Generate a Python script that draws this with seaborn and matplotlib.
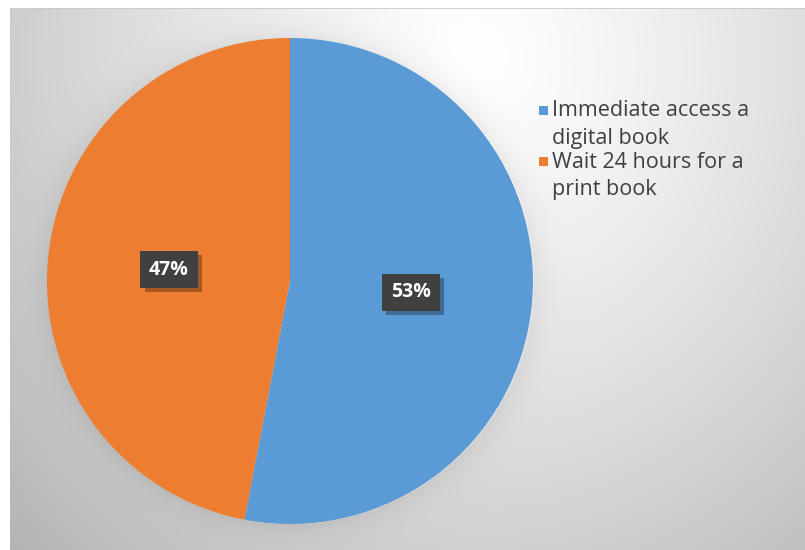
import numpy as np
import matplotlib
matplotlib.use("Agg")
import matplotlib.pyplot as plt
import matplotlib.patheffects as pe
import seaborn as sns

# Survey responses
categories = ["Immediate access a\ndigital book", "Wait 24 hours for a\nprint book"]
shares = [53, 47]
colors = ["#5B9BD5", "#ED7D31"]

sns.set_theme(style="white")
plt.rcParams["font.family"] = ["Open Sans", "DejaVu Sans"]

W, H, DPI = 805, 550, 100
fig = plt.figure(figsize=(W / DPI, H / DPI), dpi=DPI)
fig.patch.set_facecolor("white")

# Chart area with a soft radial gradient and a faint halo around the pie
x0, y0 = 10, 8
bg = fig.add_axes([x0 / W, 0, (W - x0) / W, (H - y0) / H])
bg.set_axis_off()
yy, xx = np.mgrid[y0:H, x0:W].astype(float)
d = np.sqrt(((xx - 470) / 560) ** 2 + ((yy - 60) / 620) ** 2)
val = 1.0 - 0.25 * np.clip(d, 0, 1.3) ** 1.3
cx, cy, R = 290, 281, 243
edge = np.sqrt((xx - cx) ** 2 + (yy - cy) ** 2) - R
halo = np.where(edge > 0, np.exp(-edge / 14.0), 0.0)
val = val - 0.06 * halo
img = np.dstack([val, val, val])
bg.imshow(img, aspect="auto", interpolation="bilinear", extent=[0, 1, 0, 1])
bg.set_xlim(0, 1)
bg.set_ylim(0, 1)
bg.axhline(1, color="#c8c8c8", lw=1.2)

# Pie
total = sum(shares)
ax = fig.add_axes([(cx - R) / W, (H - cy - R) / H, 2 * R / W, 2 * R / H])
wedges, texts, autotexts = ax.pie(
    shares,
    colors=colors,
    startangle=90,
    counterclock=False,
    radius=1.0,
    autopct=lambda p: f"{round(p * total / 100):d}%",
    pctdistance=0.5,
    wedgeprops=dict(linewidth=0),
    textprops=dict(color="white", fontsize=14, fontweight="bold"),
)
ax.set_xlim(-1, 1)
ax.set_ylim(-1, 1)
ax.set_aspect("equal")
for t in autotexts:
    t.set_bbox(dict(boxstyle="square,pad=0.45", facecolor="#404040", edgecolor="none"))
    t.get_bbox_patch().set_path_effects(
        [pe.SimplePatchShadow(offset=(3, -3), shadow_rgbFace="#000000", alpha=0.3), pe.Normal()]
    )

# Legend
ly = [111, 162]
for lab, col, y in zip(categories, colors, ly):
    fig.patches.append(
        matplotlib.patches.Rectangle(
            (539 / W, 1 - (y + 4) / H), 9 / W, 9 / H,
            transform=fig.transFigure, facecolor=col, edgecolor="none",
        )
    )
    lines = lab.split("\n")
    fig.text(552 / W, 1 - y / H, lines[0], fontsize=15.5, color="#404040", va="center")
    fig.text(552 / W, 1 - (y + 27) / H, lines[1], fontsize=15.5, color="#404040", va="center")

fig.savefig("out.png", dpi=DPI)
